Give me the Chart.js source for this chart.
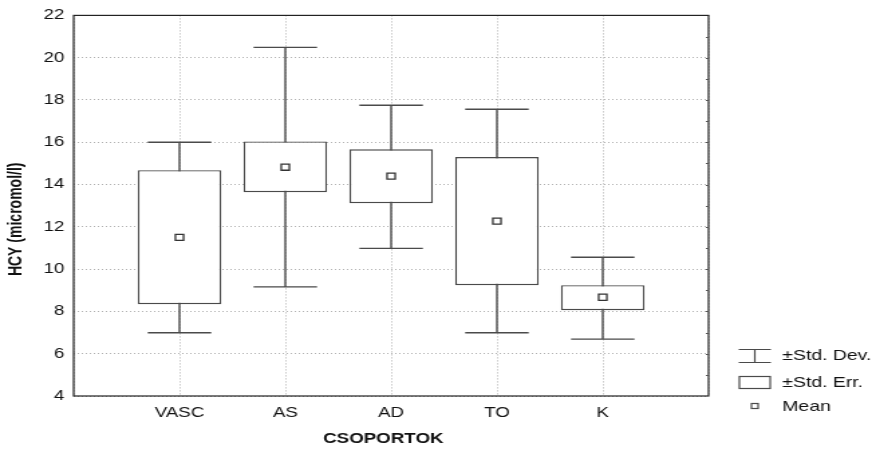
<!DOCTYPE html>
<html>
<head>
<meta charset="utf-8">
<script src="https://cdn.jsdelivr.net/npm/chart.js@4"></script>
<style>
  html, body { margin: 0; padding: 0; background: #fff; }
  #wrap { width: 876px; height: 451px; position: relative; }
  /* drawn on a narrower canvas and stretched wide, like the exported graph */
  #hcyChart { width: 876px; height: 451px; }
</style>
</head>
<body>
<div id="wrap"><canvas id="hcyChart" width="654" height="451" style="width:876px;height:451px"></canvas></div>
<script>
// group names and stats (HCY, micromol/l)
const groups   = ['VASC', 'AS', 'AD', 'TO', 'K'];
const means    = [11.5, 14.82, 14.4, 12.27, 8.67];
const seLow    = [8.34, 13.64, 13.12, 9.24, 8.06];
const seHigh   = [14.68, 16.04, 15.67, 15.3, 9.24];
const sdLow    = [6.99, 9.16, 10.98, 6.99, 6.69];
const sdHigh   = [16.0, 20.49, 17.75, 17.56, 10.56];
const yTicks   = [4, 6, 8, 10, 12, 14, 16, 18, 20, 22];

const LINE = '#4a4a4a';
const FONT = '"Liberation Sans", Arial, sans-serif';
const CAP = 0.3; // half width of whisker caps, in x units

// whisker paths: stem, top cap, bottom cap, separated by gaps
const whiskerPts = [];
groups.forEach((g, i) => {
  const x = i + 1;
  whiskerPts.push({ x: x, y: sdLow[i] }, { x: x, y: sdHigh[i] }, { x: x, y: null });
  whiskerPts.push({ x: x - CAP, y: sdHigh[i] }, { x: x + CAP, y: sdHigh[i] }, { x: x, y: null });
  whiskerPts.push({ x: x - CAP, y: sdLow[i] }, { x: x + CAP, y: sdLow[i] }, { x: x, y: null });
});

const boxData = groups.map((g, i) => ({ x: i + 1, y: [seLow[i], seHigh[i]] }));
const meanData = groups.map((g, i) => ({ x: i + 1, y: means[i] }));

// frame round the plot area, minor ticks on the right edge, and the legend
const framePlugin = {
  id: 'frame',
  afterDraw(chart) {
    const { ctx, chartArea: a } = chart;
    const yScale = chart.scales.y;
    ctx.save();
    ctx.strokeStyle = '#222';
    ctx.lineWidth = 1.2;
    ctx.strokeRect(a.left, a.top, a.right - a.left, a.bottom - a.top);

    ctx.strokeStyle = '#555';
    ctx.lineWidth = 1;
    ctx.beginPath();
    for (let v = yScale.min + 1; v < yScale.max; v++) {
      const py = Math.round(yScale.getPixelForValue(v)) + 0.5;
      ctx.moveTo(a.right - 2, py);
      ctx.lineTo(a.right, py);
    }
    ctx.stroke();

    // legend
    ctx.strokeStyle = LINE;
    ctx.lineWidth = 1.2;
    ctx.beginPath();
    ctx.moveTo(551.5, 349.5); ctx.lineTo(575.5, 349.5);
    ctx.moveTo(563.5, 349.5); ctx.lineTo(563.5, 362.5);
    ctx.moveTo(551.5, 362.5); ctx.lineTo(575.5, 362.5);
    ctx.stroke();
    ctx.strokeRect(552, 376.5, 23, 12);
    ctx.strokeRect(561, 403.5, 5, 5);

    ctx.fillStyle = '#111';
    ctx.font = '14.5px ' + FONT;
    ctx.textBaseline = 'middle';
    ctx.fillText('\u00b1Std. Dev.', 584, 356);
    ctx.fillText('\u00b1Std. Err.', 584, 382.5);
    ctx.fillText('Mean', 584, 407);
    ctx.restore();
  }
};

const ctx = document.getElementById('hcyChart').getContext('2d');
new Chart(ctx, {
  type: 'line',
  data: {
    datasets: [
      {
        type: 'scatter',
        data: meanData,
        showLine: false,
        pointStyle: 'rect',
        pointRadius: 4.3,
        pointBackgroundColor: '#fff',
        pointBorderColor: '#333',
        pointBorderWidth: 1.3,
        order: 0
      },
      {
        type: 'bar',
        data: boxData,
        backgroundColor: '#fff',
        borderColor: LINE,
        borderWidth: 1.4,
        borderSkipped: false,
        barPercentage: 0.79,
        categoryPercentage: 1,
        order: 1
      },
      {
        type: 'line',
        data: whiskerPts,
        borderColor: LINE,
        borderWidth: 1.4,
        pointRadius: 0,
        spanGaps: false,
        tension: 0,
        order: 2
      }
    ]
  },
  options: {
    responsive: false,
    animation: false,
    layout: { padding: { top: 15, right: 125, left: 0, bottom: 0 } },
    plugins: { legend: { display: false }, tooltip: { enabled: false } },
    scales: {
      x: {
        type: 'linear',
        min: 0,
        max: 6,
        offset: false,
        afterBuildTicks(scale) {
          scale.ticks = [0, 1, 2, 3, 4, 5, 6].map(v => ({ value: v }));
        },
        afterFit(scale) { scale.height = 55; },
        ticks: {
          color: '#111',
          padding: 9,
          maxRotation: 0,
          font: { family: FONT, size: 14 },
          callback: v => groups[v - 1] || ''
        },
        grid: { offset: false, color: '#b0b0b0', drawTicks: false, lineWidth: 1 },
        border: { display: false, dash: [1, 2] },
        title: {
          display: true,
          text: 'CSOPORTOK   ',
          color: '#111',
          padding: { bottom: 3 },
          font: { family: FONT, size: 14, weight: 'bold' }
        }
      },
      y: {
        type: 'linear',
        min: 4,
        max: 22,
        afterBuildTicks(scale) {
          scale.ticks = yTicks.map(v => ({ value: v }));
        },
        afterFit(scale) { scale.width = 55; },
        ticks: {
          color: '#111',
          padding: 7,
          font: { family: FONT, size: 14 }
        },
        grid: { color: '#b0b0b0', drawTicks: false, lineWidth: 1 },
        border: { display: false, dash: [1, 2] },
        title: {
          display: true,
          text: 'HCY (micromol/l)       ',
          color: '#111',
          padding: { top: 4 },
          font: { family: FONT, size: 14, weight: 'bold' }
        }
      }
    }
  },
  plugins: [framePlugin]
});
</script>
</body>
</html>
